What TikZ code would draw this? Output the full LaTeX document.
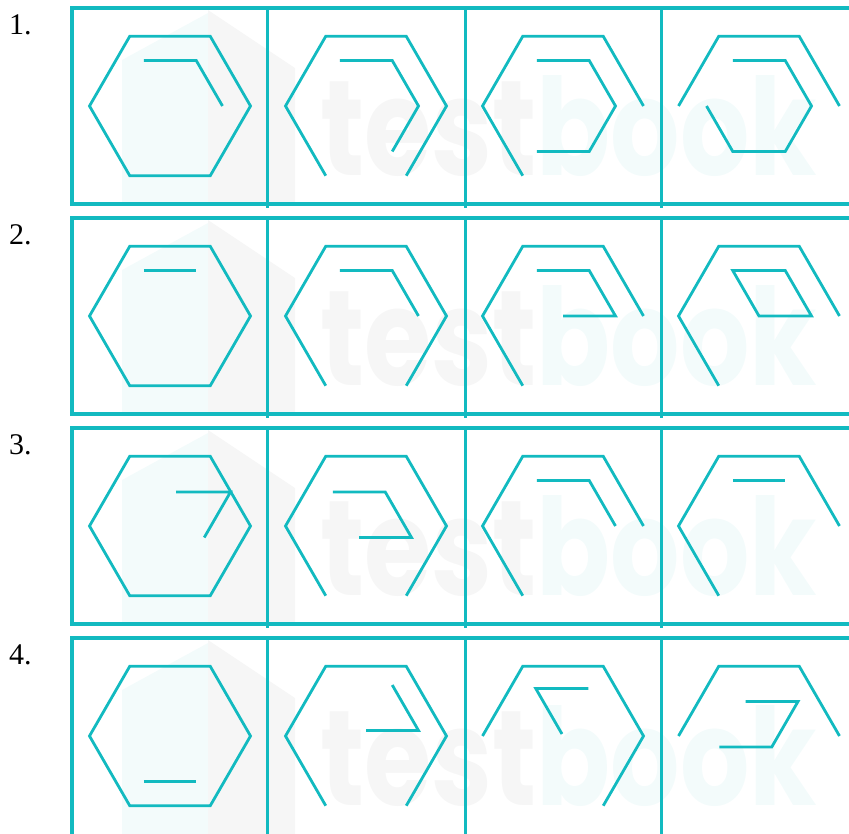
\documentclass[tikz,border=0pt]{standalone}
\usepackage{fontspec}
\usepackage{graphicx}
\setmainfont{Liberation Serif}
\newfontfamily\wmfont{Poppins}
\definecolor{teal1}{RGB}{18,186,192}
\definecolor{wmgray}{RGB}{246,246,246}
\definecolor{wmcyan}{RGB}{243,251,251}
\tikzset{
  fig/.style={draw=teal1, line width=2.8pt},
  frame/.style={draw=teal1, line width=3.5pt},
  divider/.style={draw=teal1, line width=3pt},
  lbl/.style={anchor=base west, inner sep=0pt, font=\fontsize{30}{36}\selectfont}
}
\newcommand\figbox[3]{%
  \begin{scope}[shift={(#1,#2)}]
    \foreach \k in {0,...,5}{%
      \coordinate (O\k) at (\k*60:80.5);
      \coordinate (I\k) at (\k*60:52.5);
    }
    \coordinate (C) at (0,0);
    #3
  \end{scope}}
\begin{document}
\begin{tikzpicture}[x=1pt,y=1pt]
\useasboundingbox (0,0) rectangle (849,-833);
\clip (0,0) rectangle (849,-833);
% watermark per row
\foreach \T in {8,218,428,638}{
  \begin{scope}
    \clip (72,-\T) rectangle (849,{-\T-196});
    \fill[wmcyan] (122,{-\T-52}) -- (208,{-\T-5}) -- (208,{-\T-200}) -- (122,{-\T-200}) -- cycle;
    \fill[wmgray] (208,{-\T-2}) -- (295,{-\T-60}) -- (295,{-\T-200}) -- (208,{-\T-200}) -- cycle;
    \node[anchor=south west, inner sep=0pt] (wm\T) at (320,{-\T-169})
      {\resizebox{497pt}{100pt}{\wmfont\bfseries\textcolor{wmgray}{test}\textcolor{wmcyan}{book}}};
  \end{scope}
}
% frames
\foreach \T in {8,218,428}{
  \draw[frame] (72,-\T) rectangle (870,{-\T-196});
}
\draw[frame] (72,-638) rectangle (870,-845);
\foreach \T in {8,218,428,638}{
  \foreach \X in {267.7,465,661}{
    \draw[divider] (\X,-\T) -- (\X,{-\T-200});
  }
}
% labels
\node[lbl] (lab1) at (9,-34) {1.};
\node[lbl] (lab2) at (9,-244) {2.};
\node[lbl] (lab3) at (9,-454) {3.};
\node[lbl] (lab4) at (9,-664) {4.};
% row 1
\figbox{170}{-106}{\draw[fig] (O0)--(O1)--(O2)--(O3)--(O4)--(O5)--cycle; \draw[fig] (I2)--(I1)--(I0);}
\figbox{366}{-106}{\draw[fig] (O4)--(O3)--(O2)--(O1)--(O0)--(O5); \draw[fig] (I2)--(I1)--(I0)--(I5);}
\figbox{563}{-106}{\draw[fig] (O4)--(O3)--(O2)--(O1)--(O0); \draw[fig] (I2)--(I1)--(I0)--(I5)--(I4);}
\figbox{759}{-106}{\draw[fig] (O3)--(O2)--(O1)--(O0); \draw[fig] (I2)--(I1)--(I0)--(I5)--(I4)--(I3);}
% row 2
\figbox{170}{-316}{\draw[fig] (O0)--(O1)--(O2)--(O3)--(O4)--(O5)--cycle; \draw[fig] (I2)--(I1);}
\figbox{366}{-316}{\draw[fig] (O4)--(O3)--(O2)--(O1)--(O0)--(O5); \draw[fig] (I2)--(I1)--(I0);}
\figbox{563}{-316}{\draw[fig] (O4)--(O3)--(O2)--(O1)--(O0); \draw[fig] (I2)--(I1)--(I0)--(C);}
\figbox{759}{-316}{\draw[fig] (O4)--(O3)--(O2)--(O1)--(O0); \draw[fig] (I2)--(I1)--(I0)--(C)--cycle;}
% row 3
\figbox{170}{-526}{\draw[fig] (O0)--(O1)--(O2)--(O3)--(O4)--(O5)--cycle; \draw[fig] (6,34)--(60.5,34)--(34.25,-11.5);}
\figbox{366}{-526}{\draw[fig] (O4)--(O3)--(O2)--(O1)--(O0)--(O5); \draw[fig] (-33.25,34)--(19.25,34)--(45.5,-11.5)--(-7,-11.5);}
\figbox{563}{-526}{\draw[fig] (O4)--(O3)--(O2)--(O1)--(O0); \draw[fig] (I2)--(I1)--(I0);}
\figbox{759}{-526}{\draw[fig] (O4)--(O3)--(O2)--(O1)--(O0); \draw[fig] (I2)--(I1);}
% row 4
\figbox{170}{-736}{\draw[fig] (O0)--(O1)--(O2)--(O3)--(O4)--(O5)--cycle; \draw[fig] (I4)--(I5);}
\figbox{366}{-736}{\draw[fig] (O4)--(O3)--(O2)--(O1)--(O0)--(O5); \draw[fig] (26.25,51)--(52.5,5.5)--(0,5.5);}
\figbox{563}{-736}{\draw[fig] (O3)--(O2)--(O1)--(O0)--(O5); \draw[fig] (25.25,47.5)--(-27.25,47.5)--(-1,2);}
\figbox{759}{-736}{\draw[fig] (O3)--(O2)--(O1)--(O0); \draw[fig] (-13.5,34.5)--(39,34.5)--(12.75,-11)--(-39.75,-11);}
\end{tikzpicture}
\end{document}
